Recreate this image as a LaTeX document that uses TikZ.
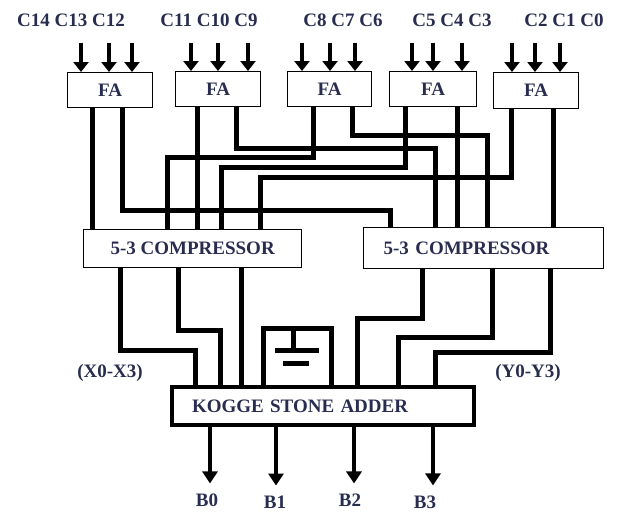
\documentclass[tikz,border=0pt]{standalone}
\usepackage{fontspec}
\setmainfont{Liberation Serif}
\usetikzlibrary{arrows.meta,calc}
\definecolor{txtc}{RGB}{40,45,80}
\begin{document}
\begin{tikzpicture}[x=1pt,y=-1pt,
  txt/.style={font=\fontsize{19}{23}\selectfont\bfseries, text=txtc, inner sep=0pt},
  box/.style={draw, line width=1.3pt, inner sep=0pt, txt, anchor=north west},
  fabox/.style={box, minimum width=85pt, minimum height=35pt},
  wire/.style={line width=5pt, line join=miter},
  inarrow/.style={line width=4.5pt, -{Triangle[width=15pt,length=10pt]}},
  outarrow/.style={line width=4.5pt, -{Triangle[width=15pt,length=12pt]}, shorten >=10pt}]
\useasboundingbox (0,0) rectangle (618,512);

% labels of inputs
\node[txt] (l1) at (71,20) {C14 C13 C12};
\node[txt] (l2) at (209,20) {C11 C10 C9};
\node[txt] (l3) at (343,20) {C8 C7 C6};
\node[txt] (l4) at (452,20) {C5 C4 C3};
\node[txt] (l5) at (564,20) {C2 C1 C0};

% FA boxes
\node[fabox] (fa1) at (67,72) {FA};
\node[fabox] (fa2) at (175,71) {FA};
\node[fabox, minimum width=84pt] (fa3) at (287,71) {FA};
\node[fabox, minimum width=87pt] (fa4) at (389,71) {FA};
\node[fabox, minimum height=36pt] (fa5) at (493,72) {FA};

% input arrows
\foreach \x/\l/\f in {81/l1/fa1,109/l1/fa1,132/l1/fa1,
                      191/l2/fa2,218/l2/fa2,248/l2/fa2,
                      302/l3/fa3,330/l3/fa3,355/l3/fa3,
                      412/l4/fa4,433/l4/fa4,462/l4/fa4,
                      512/l5/fa5,535/l5/fa5,560/l5/fa5}
  \draw[inarrow] ($(\x,0 |- \l.south)+(0,16)$) -- (\x,0 |- \f.north);

% compressors
\node[box, minimum width=218pt, minimum height=38pt] (c1) at (83,229) {5-3 COMPRESSOR};
\node[box, text width=200pt, inner xsep=20pt, align=left, minimum height=41pt] (c2) at (363,227) {5-3 COMPRESSOR};

% FA -> compressors
\draw[wire] (92,0 |- fa1.south) -- (92,0 |- c1.north);
\draw[wire] (122,0 |- fa1.south) |- (390,210) -- (390,0 |- c2.north);
\draw[wire] (197,0 |- fa2.south) -- (197,0 |- c1.north);
\draw[wire] (236,0 |- fa2.south) |- (435,148) -- (435,0 |- c2.north);
\draw[wire] (313,0 |- fa3.south) |- (167,157) -- (167,0 |- c1.north);
\draw[wire] (352,0 |- fa3.south) |- (487,135) -- (487,0 |- c2.north);
\draw[wire] (405,0 |- fa4.south) |- (221,167) -- (221,0 |- c1.north);
\draw[wire] (457,0 |- fa4.south) -- (457,0 |- c2.north);
\draw[wire] (511,0 |- fa5.south) |- (260,177) -- (260,0 |- c1.north);
\draw[wire] (553,0 |- fa5.south) -- (553,0 |- c2.north);

% Kogge Stone adder
\node[box, line width=4pt, text width=262pt, inner xsep=20pt, align=left, minimum height=38pt] (ksa) at (170,385) {KOGGE STONE ADDER};

% compressors -> KSA
\draw[wire] (120,0 |- c1.south) |- (195,350) -- (195,0 |- ksa.north);
\draw[wire] (178,0 |- c1.south) |- (220,330) -- (220,0 |- ksa.north);
\draw[wire] (241,0 |- c1.south) -- (241,0 |- ksa.north);
\draw[wire] (422,0 |- c2.south) |- (357,318) -- (357,0 |- ksa.north);
\draw[wire] (492,0 |- c2.south) |- (398,337) -- (398,0 |- ksa.north);
\draw[wire] (550,0 |- c2.south) |- (435,352) -- (435,0 |- ksa.north);

% ground-like symbol
\draw[wire] (263,0 |- ksa.north) |- (331,328) -- (331,0 |- ksa.north);
\draw[wire] (293,328) -- (293,350);
\draw[wire] (275,350) -- (319,350);
\draw[wire] (283,363) -- (309,363);

% side labels
\node[txt] (xl) at (110,373) {(X0-X3)};
\node[txt] (yl) at (528,373) {(Y0-Y3)};

% outputs
\node[txt] (b0) at (207,500) {B0};
\node[txt] (b1) at (275,502) {B1};
\node[txt] (b2) at (350,500) {B2};
\node[txt] (b3) at (425,502) {B3};
\draw[outarrow] (210,0 |- ksa.south) -- (210,0 |- b0.north);
\draw[outarrow] (276,0 |- ksa.south) -- (276,0 |- b1.north);
\draw[outarrow] (354,0 |- ksa.south) -- (354,0 |- b2.north);
\draw[outarrow] (433,0 |- ksa.south) -- (433,0 |- b3.north);
\end{tikzpicture}
\end{document}
